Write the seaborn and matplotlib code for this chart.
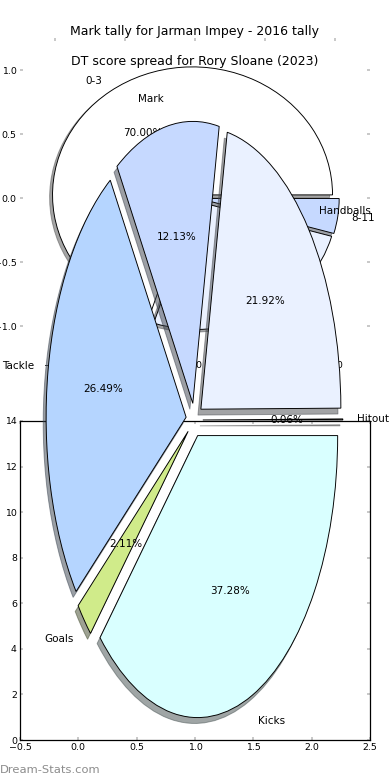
import matplotlib
matplotlib.use("Agg")
import matplotlib.pyplot as plt
import seaborn as sns

# Jarman Impey stat mix, clockwise from 3 o'clock
stat_labels = ['Kicks', 'Goals', 'Tackle', 'Mark', 'Handballs', 'Hitout']
stat_values = [37.28, 2.11, 26.49, 12.13, 21.92, 0.06]
stat_colors = ['#d9ffff', '#d0eb8a', '#b5d5ff', '#c6d9ff', '#eaf1ff', '#ffffff']

# Rory Sloane DT score bands, anticlockwise from 3 o'clock
dt_labels = ['0-3', '4-7', '8-11']
dt_values = [70.00, 25.60, 4.40]
dt_colors = ['#ffffff', '#eaf1ff', '#c6d9ff']

pie_ticks = [-1.0, -0.5, 0.0, 0.5, 1.0]
box_xticks = [-0.5, 0.0, 0.5, 1.0, 1.5, 2.0, 2.5]
box_yticks = [0, 2, 4, 6, 8, 10, 12, 14]

sns.set_style("ticks")
plt.rcParams['font.family'] = ['DejaVu Sans']
plt.rcParams['text.color'] = 'black'

W, H = 390, 780
fig = plt.figure(figsize=(5.2, 10.4), dpi=75)

edge = dict(edgecolor='black', linewidth=0.9)
tick_gray = '#bbbbbb'

# top axes: DT score pie, frame off but ticks left on
ax_top = fig.add_axes([20 / W, 1 - 358 / H, 350 / W, 320 / H])
ax_top.pie(dt_values, labels=dt_labels, colors=dt_colors, explode=[0.03] * 3,
           shadow=True, autopct='%1.2f%%', startangle=0, wedgeprops=edge,
           textprops={'fontsize': 10, 'color': 'black'})
ax_top.set_aspect('auto')
ax_top.set_xlim(-1.25, 1.25)
ax_top.set_ylim(-1.25, 1.25)
ax_top.set_xticks(pie_ticks)
ax_top.set_yticks(pie_ticks)
ax_top.tick_params(direction='in', top=True, right=True, length=3, width=1.5,
                   color=tick_gray, labelcolor='black', labelsize=9, pad=3)
ax_top.set_title('Mark tally for Jarman Impey - 2016 tally', fontsize=12,
                 color='black', y=1.0, pad=3)

# lower empty box
ax_box = fig.add_axes([20 / W, 40 / H, 350 / W, 319 / H])
ax_box.set_xlim(-0.5, 2.5)
ax_box.set_ylim(0, 14)
ax_box.set_xticks(box_xticks)
ax_box.set_yticks(box_yticks)
for sp in ax_box.spines.values():
    sp.set_color('black')
    sp.set_linewidth(1.2)
ax_box.tick_params(direction='in', top=True, right=True, length=3, width=1.5,
                   color=tick_gray, labelcolor='black', labelsize=9, pad=3)

# big stat pie on a transparent axes over everything
ax_big = fig.add_axes([19.4 / W, 7.5 / H, 350 / W, 705 / H])
ax_big.patch.set_visible(False)
ax_big.pie(stat_values, labels=stat_labels, colors=stat_colors, explode=[0.06] * 6,
           shadow=True, autopct='%1.2f%%', startangle=0, counterclock=False,
           wedgeprops=edge, textprops={'fontsize': 10, 'color': 'black'})
ax_big.set_aspect('auto')
ax_big.set_xlim(-1.25, 1.25)
ax_big.set_ylim(-1.25, 1.25)
ax_big.set_title('DT score spread for Rory Sloane (2023)', fontsize=12,
                 color='black', y=1.0, pad=2)

fig.text(0.0, 1 - 770 / H, 'Dream-Stats.com', color='#8c8c8c', fontsize=11,
         ha='left', va='center')

fig.savefig('out.png', dpi=75)
